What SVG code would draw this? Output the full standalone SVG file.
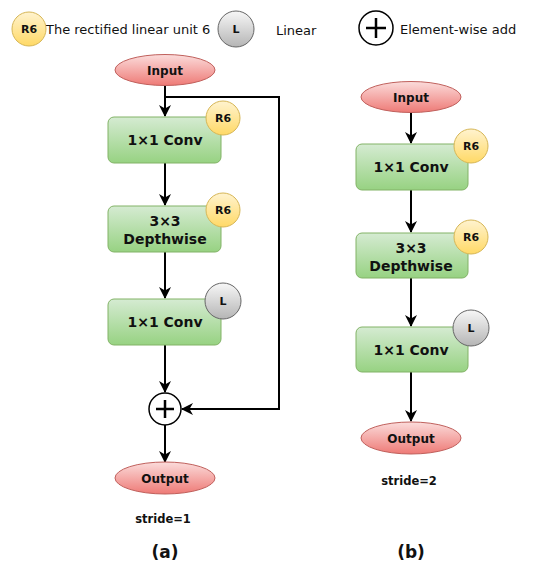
<svg xmlns="http://www.w3.org/2000/svg" width="550" height="567" viewBox="0 0 550 567">
<defs>
<linearGradient id="gRed" x1="0" y1="0" x2="0" y2="1"><stop offset="0" stop-color="#fbdcdb"/><stop offset="1" stop-color="#ee7a76"/></linearGradient>
<linearGradient id="gGreen" x1="0" y1="0" x2="0" y2="1"><stop offset="0" stop-color="#d5ebd2"/><stop offset="1" stop-color="#97d282"/></linearGradient>
<linearGradient id="gYel" x1="0" y1="0" x2="0" y2="1"><stop offset="0" stop-color="#fff3cf"/><stop offset="1" stop-color="#ffd966"/></linearGradient>
<linearGradient id="gGray" x1="0" y1="0" x2="0" y2="1"><stop offset="0" stop-color="#f7f7f7"/><stop offset="1" stop-color="#b5b5b5"/></linearGradient>
<marker id="ah" markerWidth="12" markerHeight="12" refX="11" refY="6" orient="auto" markerUnits="userSpaceOnUse"><path d="M0,0 L12,6 L0,12 L3.5,6 Z" fill="#000"/></marker>
</defs>
<style>
.ell{fill:url(#gRed);stroke:#c0605c;stroke-width:1}
.box{fill:url(#gGreen);stroke:#82b366;stroke-width:1}
.r6{fill:url(#gYel);stroke:#d6b656;stroke-width:1}
.lc{fill:url(#gGray);stroke:#666;stroke-width:1}
.t{font-family:"DejaVu Sans",Verdana,sans-serif;font-weight:bold;fill:#111;text-anchor:middle}
.lg{font-family:"DejaVu Sans",Verdana,sans-serif;font-size:13px;fill:#111}
.edge{fill:none;stroke:#000;stroke-width:2}
.plus{fill:#fff;stroke:#000;stroke-width:1.5}
.pl{stroke:#000;stroke-width:2.5}
</style>
<g id="legend">
<circle class="r6" cx="29" cy="29" r="17"/>
<text class="t" x="29" y="33" font-size="11">R6</text>
<text class="lg" x="46" y="34">The rectified linear unit 6</text>
<circle class="lc" cx="236" cy="29" r="18"/>
<text class="t" x="236" y="33" font-size="11">L</text>
<text class="lg" x="276" y="35">Linear</text>
<circle class="plus" cx="376" cy="28" r="17"/>
<line class="pl" x1="366" y1="28" x2="386" y2="28"/><line class="pl" x1="376" y1="18" x2="376" y2="38"/>
<text class="lg" x="400" y="34">Element-wise add</text>
</g>
<g id="edges">
<line class="edge" x1="165" y1="86" x2="165" y2="116" marker-end="url(#ah)"/>
<polyline class="edge" points="165,97 279,97 279,409 182,409" marker-end="url(#ah)"/>
<line class="edge" x1="165" y1="163" x2="165" y2="205" marker-end="url(#ah)"/>
<line class="edge" x1="165" y1="252" x2="165" y2="298" marker-end="url(#ah)"/>
<line class="edge" x1="165" y1="345" x2="165" y2="392" marker-end="url(#ah)"/>
<line class="edge" x1="165" y1="425" x2="165" y2="462" marker-end="url(#ah)"/>
<line class="edge" x1="411" y1="113" x2="411" y2="143" marker-end="url(#ah)"/>
<line class="edge" x1="411" y1="190" x2="411" y2="232" marker-end="url(#ah)"/>
<line class="edge" x1="411" y1="278" x2="411" y2="326" marker-end="url(#ah)"/>
<line class="edge" x1="411" y1="372" x2="411" y2="421" marker-end="url(#ah)"/>
</g>
<g id="a_input"><ellipse class="ell" cx="165" cy="70" rx="50" ry="15.5"/><text class="t" x="165" y="74.5" font-size="12">Input</text></g>
<g id="a_conv1"><rect class="box" x="108" y="117" width="113" height="46" rx="6"/><text class="t" x="165" y="145" font-size="14">1×1 Conv</text>
<circle class="r6" cx="223" cy="118" r="17"/><text class="t" x="223" y="122" font-size="11">R6</text></g>
<g id="a_dw"><rect class="box" x="108" y="206" width="113" height="46" rx="6"/><text class="t" x="165" y="226" font-size="14">3×3</text><text class="t" x="165" y="244" font-size="14">Depthwise</text>
<circle class="r6" cx="223" cy="210" r="17"/><text class="t" x="223" y="214" font-size="11">R6</text></g>
<g id="a_conv2"><rect class="box" x="108" y="299" width="113" height="46" rx="6"/><text class="t" x="165" y="327" font-size="14">1×1 Conv</text>
<circle class="lc" cx="223" cy="301" r="18"/><text class="t" x="223" y="305" font-size="11">L</text></g>
<g id="a_add"><circle class="plus" cx="165" cy="409" r="16"/><line class="pl" x1="156" y1="409" x2="174" y2="409"/><line class="pl" x1="165" y1="400" x2="165" y2="418"/></g>
<g id="a_output"><ellipse class="ell" cx="165" cy="478" rx="50" ry="16"/><text class="t" x="165" y="482.5" font-size="12">Output</text></g>
<text class="t" x="163" y="523" font-size="11.5">stride=1</text>
<text class="t" x="165" y="558" font-size="17">(a)</text>
<g id="b_input"><ellipse class="ell" cx="411" cy="97" rx="50" ry="15.5"/><text class="t" x="411" y="101.5" font-size="12">Input</text></g>
<g id="b_conv1"><rect class="box" x="356" y="144" width="112" height="46" rx="6"/><text class="t" x="411" y="172" font-size="14">1×1 Conv</text>
<circle class="r6" cx="471" cy="146" r="17"/><text class="t" x="471" y="150" font-size="11">R6</text></g>
<g id="b_dw"><rect class="box" x="356" y="233" width="112" height="45" rx="6"/><text class="t" x="411" y="253" font-size="14">3×3</text><text class="t" x="411" y="271" font-size="14">Depthwise</text>
<circle class="r6" cx="471" cy="237" r="17"/><text class="t" x="471" y="241" font-size="11">R6</text></g>
<g id="b_conv2"><rect class="box" x="356" y="327" width="112" height="45" rx="6"/><text class="t" x="411" y="355" font-size="14">1×1 Conv</text>
<circle class="lc" cx="471" cy="328" r="18"/><text class="t" x="471" y="332" font-size="11">L</text></g>
<g id="b_output"><ellipse class="ell" cx="411" cy="438" rx="50" ry="16"/><text class="t" x="411" y="442.5" font-size="12">Output</text></g>
<text class="t" x="409" y="485" font-size="11.5">stride=2</text>
<text class="t" x="411" y="558" font-size="17">(b)</text>
</svg>
